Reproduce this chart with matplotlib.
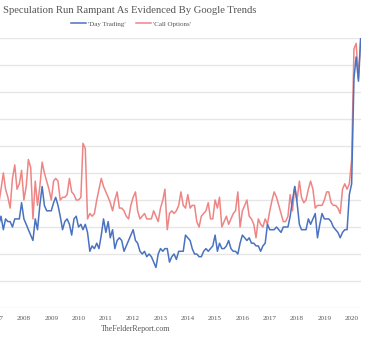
import numpy as np
import pandas as pd
import matplotlib
matplotlib.use("Agg")
import matplotlib.pyplot as plt
import matplotlib.dates as mdates

# monthly google trends values, Feb 2007 .. May 2020
dates = pd.date_range("2007-02-01", periods=160, freq="MS")

day_trading = [
    31, 34, 29, 33, 32, 32, 30, 33, 33, 33, 39, 33, 31, 29, 27, 25, 33, 29, 38, 45,
    38, 36, 36, 36, 39, 41, 38, 34, 29, 32, 33, 31, 27, 33, 34, 30, 31, 29, 31, 28,
    21, 23, 22, 24, 22, 27, 33, 28, 32, 26, 29, 22, 25, 26, 25, 21, 23, 25, 27, 29,
    25, 24, 21, 20, 21, 19, 20, 19, 17, 15, 20, 22, 21, 22, 22, 17, 19, 20, 18, 21,
    21, 21, 27, 26, 25, 22, 20, 20, 19, 19, 21, 22, 21, 22, 23, 27, 21, 24, 22, 22,
    23, 25, 22, 21, 21, 20, 24, 27, 26, 25, 26, 24, 24, 23, 23, 21, 23, 24, 31, 29,
    29, 29, 30, 29, 28, 30, 30, 30, 34, 40, 45, 39, 31, 29, 29, 29, 33, 31, 33, 35,
    26, 31, 35, 33, 33, 33, 32, 30, 29, 28, 26, 28, 29, 29, 42, 46, 85, 93, 84, 100,
]

call_options = [
    39, 44, 50, 44, 41, 37, 48, 53, 44, 46, 51, 40, 45, 55, 52, 33, 47, 38, 45, 54,
    50, 47, 44, 40, 47, 48, 47, 40, 41, 41, 42, 48, 43, 42, 40, 40, 41, 61, 59, 33,
    35, 34, 35, 40, 44, 48, 45, 43, 41, 39, 36, 40, 43, 37, 37, 36, 34, 33, 38, 41,
    43, 36, 33, 34, 35, 33, 33, 33, 36, 34, 32, 37, 40, 44, 29, 35, 36, 35, 36, 38,
    43, 38, 37, 42, 37, 38, 38, 32, 30, 34, 35, 36, 39, 33, 33, 40, 37, 41, 30, 32,
    34, 31, 33, 35, 36, 43, 30, 36, 38, 40, 34, 33, 31, 26, 33, 31, 30, 33, 31, 36,
    40, 43, 41, 38, 35, 32, 32, 34, 42, 36, 45, 40, 47, 41, 39, 40, 44, 47, 44, 37,
    38, 38, 38, 40, 43, 43, 39, 38, 38, 37, 35, 44, 46, 44, 46, 55, 96, 98, 85, 100,
]

years = list(range(2007, 2021))

serif = ["Liberation Serif", "DejaVu Serif"]
grey = "#555555"

fig = plt.figure(figsize=(3.92, 3.4), dpi=100)
W, H = 392, 340
# axes: left edge hangs off the figure so the 2007 label is cut like the source
ax = fig.add_axes([-10 / W, 32 / H, 371 / W, 270 / H])

ax.plot(dates, day_trading, color="#4a72c0", lw=1.1, label="'Day Trading'", zorder=3)
ax.plot(dates, call_options, color="#ee8585", lw=1.1, label="'Call Options'", zorder=2)

jan07 = mdates.date2num(pd.Timestamp("2007-01-01"))
per_month = 365.25 / 12
ax.set_xlim(jan07 + (-2.9) * per_month, jan07 + 160.1 * per_month)
ax.set_ylim(0, 100)

ax.set_yticks(np.arange(0, 101, 10))
ax.set_yticklabels([])
ax.grid(axis="y", color="#e6e6e6", lw=1.0)
ax.set_axisbelow(True)
for s in ax.spines.values():
    s.set_visible(False)

ax.set_xticks([pd.Timestamp(f"{y}-01-01") for y in years])
ax.set_xticklabels([str(y) for y in years], fontsize=5, color=grey, family=serif)
ax.tick_params(length=0, pad=6)

fig.text(3 / W, 1 - 13 / H, "Speculation Run Rampant As Evidenced By Google Trends",
         fontsize=7.7, color=grey, family=serif, ha="left", va="baseline")
fig.text(136 / W, 1 - 331 / H, "TheFelderReport.com",
         fontsize=5.7, color=grey, family=serif, ha="center", va="baseline")

leg = fig.legend(loc="center", bbox_to_anchor=(131 / W, 1 - 24 / H), ncol=2,
                 frameon=False, prop={"family": serif, "size": 5},
                 handlelength=2.2, handletextpad=0.3, columnspacing=1.5)
for t in leg.get_texts():
    t.set_color(grey)

fig.savefig("out.png", dpi=100)
